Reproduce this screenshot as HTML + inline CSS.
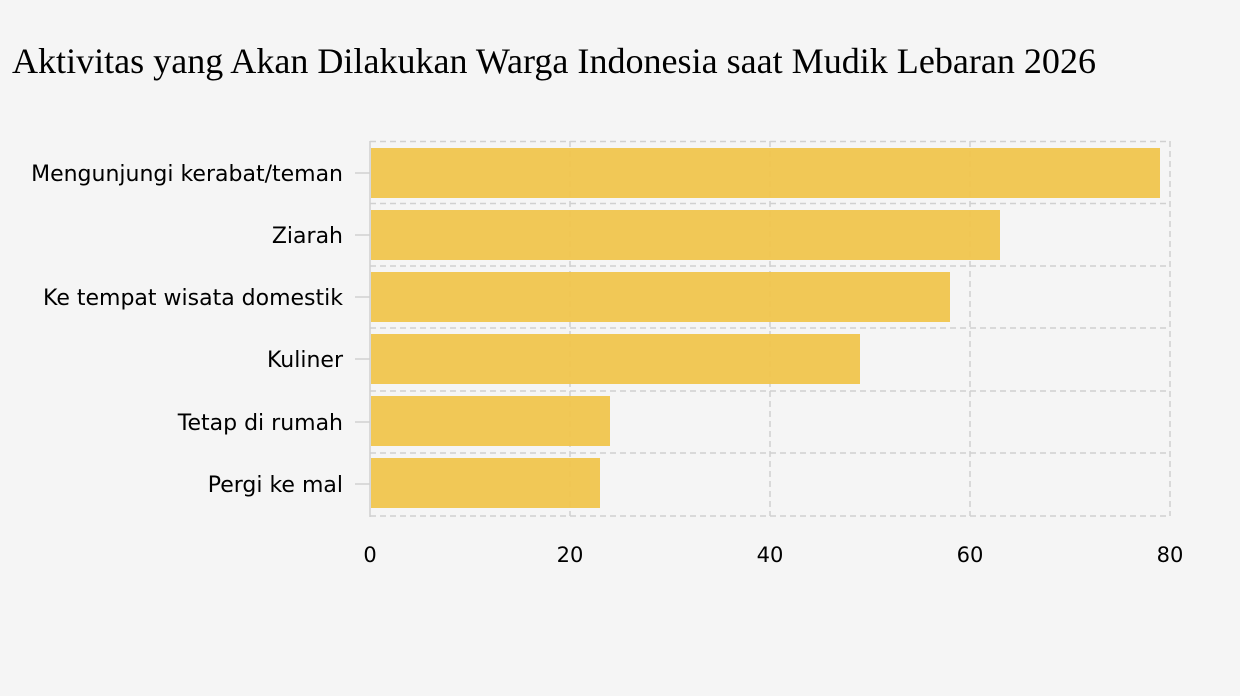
<!DOCTYPE html>
<html><head><meta charset="utf-8"><style>
body{margin:0;background:#f5f5f5;}
svg{display:block}
</style></head><body>
<svg width="1240" height="696" xmlns="http://www.w3.org/2000/svg">
<rect width="1240" height="696" fill="#f5f5f5"/>
<text x="12" y="73" font-family="Liberation Serif, serif" font-size="36" fill="#000" textLength="1084" lengthAdjust="spacingAndGlyphs">Aktivitas yang Akan Dilakukan Warga Indonesia saat Mudik Lebaran 2026</text>
<g stroke="#d0d0d0" stroke-width="1.5" stroke-dasharray="6,4" fill="none">
<line x1="370" y1="141.5" x2="1170" y2="141.5"/>
<line x1="370" y1="203.5" x2="1170" y2="203.5"/>
<line x1="370" y1="266" x2="1170" y2="266"/>
<line x1="370" y1="328" x2="1170" y2="328"/>
<line x1="370" y1="391" x2="1170" y2="391"/>
<line x1="370" y1="453" x2="1170" y2="453"/>
<line x1="370" y1="516" x2="1170" y2="516"/>
<line x1="570" y1="141" x2="570" y2="516"/>
<line x1="770" y1="141" x2="770" y2="516"/>
<line x1="970" y1="141" x2="970" y2="516"/>
<line x1="1170" y1="141" x2="1170" y2="516"/>
</g>
<g stroke="#d0d0d0" stroke-width="1.5">
<line x1="370" y1="141" x2="370" y2="517"/>
<line x1="355" y1="173" x2="370" y2="173"/>
<line x1="355" y1="235" x2="370" y2="235"/>
<line x1="355" y1="297" x2="370" y2="297"/>
<line x1="355" y1="359" x2="370" y2="359"/>
<line x1="355" y1="422" x2="370" y2="422"/>
<line x1="355" y1="484" x2="370" y2="484"/>
</g>
<g fill="#f0c54d" fill-opacity="0.95">
<rect x="371" y="148" width="789" height="50"/>
<rect x="371" y="210" width="629" height="50"/>
<rect x="371" y="272" width="579" height="50"/>
<rect x="371" y="334" width="489" height="50"/>
<rect x="371" y="396" width="239" height="50"/>
<rect x="371" y="458" width="229" height="50"/>
</g>
<g font-family="DejaVu Sans, sans-serif" font-size="22" fill="#000" text-anchor="end">
<text x="343" y="181">Mengunjungi kerabat/teman</text>
<text x="343" y="243">Ziarah</text>
<text x="343" y="305">Ke tempat wisata domestik</text>
<text x="343" y="367">Kuliner</text>
<text x="343" y="430">Tetap di rumah</text>
<text x="343" y="492">Pergi ke mal</text>
</g>
<g font-family="DejaVu Sans, sans-serif" font-size="21" fill="#000" text-anchor="middle">
<text x="370" y="562">0</text>
<text x="570" y="562">20</text>
<text x="770" y="562">40</text>
<text x="970" y="562">60</text>
<text x="1170" y="562">80</text>
</g>
</svg>
</body></html>
